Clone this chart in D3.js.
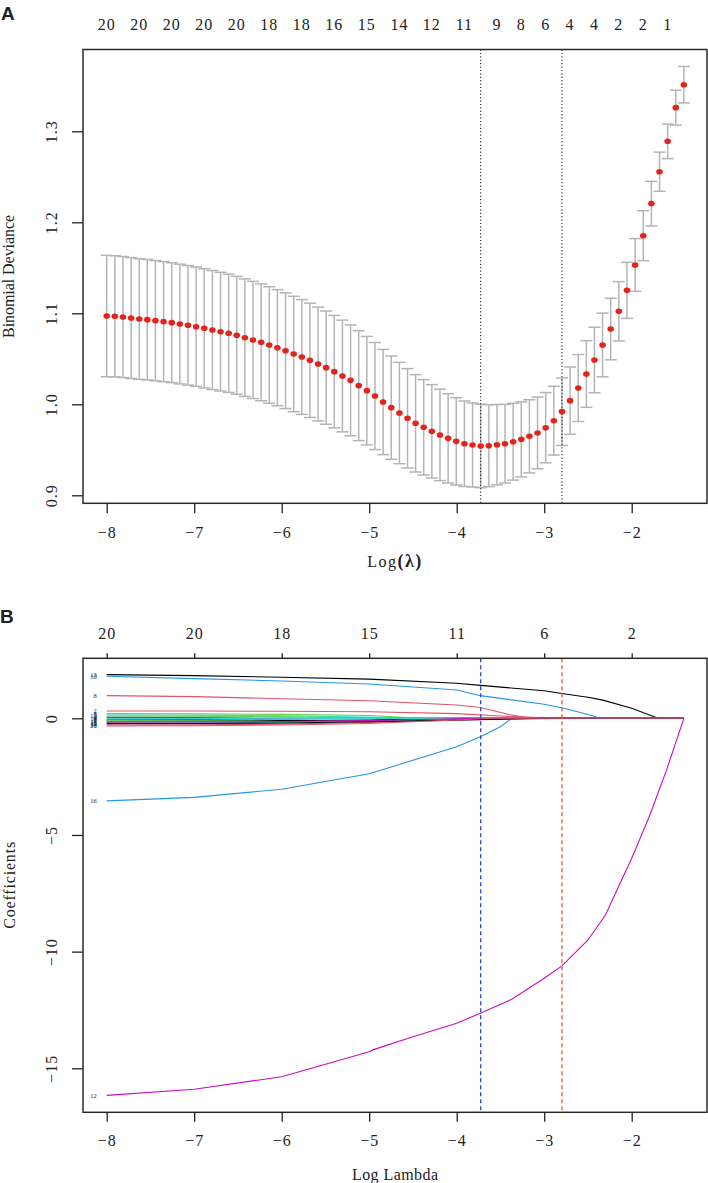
<!DOCTYPE html>
<html>
<head>
<meta charset="utf-8">
<script src="https://cdn.jsdelivr.net/npm/d3@7"></script>
<style>
  body { margin: 0; background: #fff; }
  svg text { font-family: "Liberation Serif", "DejaVu Serif", serif; fill: #222; }
  .panel-tag { font-family: "Liberation Sans", Arial, sans-serif !important; font-weight: bold; }
</style>
</head>
<body>
<div id="chart"></div>
<script>
// ---------- panel A: cross-validation curve ----------
const logLambda = [
  -8.000, -7.907, -7.814, -7.721, -7.628, -7.536, -7.443, -7.350, -7.257, -7.164,
  -7.071, -6.978, -6.885, -6.792, -6.699, -6.606, -6.514, -6.421, -6.328, -6.235,
  -6.142, -6.049, -5.956, -5.863, -5.770, -5.677, -5.584, -5.492, -5.399, -5.306,
  -5.213, -5.120, -5.027, -4.934, -4.841, -4.748, -4.655, -4.562, -4.470, -4.377,
  -4.284, -4.191, -4.098, -4.005, -3.912, -3.819, -3.726, -3.633, -3.540, -3.448,
  -3.355, -3.262, -3.169, -3.076, -2.983, -2.890, -2.797, -2.704, -2.611, -2.518,
  -2.426, -2.333, -2.240, -2.147, -2.054, -1.961, -1.868, -1.775, -1.682, -1.589,
  -1.496, -1.404
];
const cvMean = [
  1.0970, 1.0967, 1.0959, 1.0948, 1.0937, 1.0930, 1.0919, 1.0908, 1.0897, 1.0882,
  1.0868, 1.0853, 1.0835, 1.0816, 1.0798, 1.0780, 1.0758, 1.0732, 1.0707, 1.0681,
  1.0652, 1.0622, 1.0589, 1.0553, 1.0520, 1.0483, 1.0443, 1.0403, 1.0359, 1.0311,
  1.0263, 1.0205, 1.0150, 1.0091, 1.0025, 0.9963, 0.9904, 0.9846, 0.9791, 0.9747,
  0.9703, 0.9663, 0.9626, 0.9593, 0.9567, 0.9553, 0.9542, 0.9545, 0.9556, 0.9567,
  0.9589, 0.9615, 0.9648, 0.9685, 0.9743, 0.9820, 0.9919, 1.0040, 1.0179, 1.0333,
  1.0487, 1.0652, 1.0827, 1.1022, 1.1252, 1.1531, 1.1853, 1.2205, 1.2556, 1.2890,
  1.3260, 1.3512
];
const cvSd = [
  0.0667, 0.0666, 0.0665, 0.0664, 0.0663, 0.0662, 0.0661, 0.0660, 0.0659, 0.0658,
  0.0657, 0.0656, 0.0655, 0.0654, 0.0652, 0.0650, 0.0648, 0.0646, 0.0644, 0.0642,
  0.0640, 0.0638, 0.0636, 0.0634, 0.0631, 0.0628, 0.0625, 0.0622, 0.0618, 0.0614,
  0.0609, 0.0604, 0.0596, 0.0588, 0.0578, 0.0568, 0.0557, 0.0546, 0.0535, 0.0524,
  0.0513, 0.0502, 0.0491, 0.0480, 0.0470, 0.0462, 0.0458, 0.0450, 0.0442, 0.0432,
  0.0422, 0.0412, 0.0402, 0.0394, 0.0386, 0.0378, 0.0372, 0.0370, 0.0368, 0.0366,
  0.0360, 0.0350, 0.0338, 0.0326, 0.0308, 0.0290, 0.0275, 0.0245, 0.0215, 0.0190,
  0.0192, 0.0200
];
// number of non-zero coefficients printed on top (R drops overlapping labels)
const topLabelLambda = [-8.000, -7.628, -7.257, -6.885, -6.514, -6.142, -5.770, -5.399, -5.027,
  -4.655, -4.284, -3.912, -3.540, -3.262, -2.983, -2.704, -2.426, -2.147, -1.868, -1.589];
const topLabelCount = [20, 20, 20, 20, 20, 18, 18, 16, 15, 14, 12, 11, 9, 8, 6, 4, 4, 2, 2, 1];
const lambdaMin = -3.726;
const lambda1se = -2.797;

const xTicks = [-8, -7, -6, -5, -4, -3, -2];
const devianceTicks = [0.9, 1.0, 1.1, 1.2, 1.3];

// ---------- panel B: coefficient paths ----------
const pathTopTicks = [-8, -7, -6, -5, -4, -3, -2];
const pathTopCount = [20, 20, 18, 15, 11, 6, 2];
const coefTicks = [0, -5, -10, -15];
const coefVars = [1, 2, 3, 4, 5, 6, 7, 8, 9, 10, 11, 12, 13, 14, 15, 16, 17, 18, 19, 20];
// knots [logLambda, coefficient]
const coefKnots = [
  [[-8, -0.06], [-7, -0.05], [-6, -0.03], [-5.5, 0]],
  [[-8, 0.31], [-7, 0.31], [-6, 0.30], [-5, 0.28], [-4, 0.20], [-3.5, 0.10], [-2.85, 0]],
  [[-8, 0.20], [-7, 0.19], [-6, 0.17], [-5, 0.12], [-4.4, 0]],
  [[-8, 0.01], [-7, 0.008], [-6, 0.004], [-5.65, 0]],
  [[-8, 0.14], [-7, 0.13], [-6, 0.11], [-5, 0.05], [-4.55, 0]],
  [[-8, 0.04], [-7, 0.03], [-6.3, 0]],
  [[-8, -0.11], [-7, -0.11], [-6, -0.10], [-5, -0.07], [-4.05, 0]],
  [[-8, 0.97], [-7, 0.93], [-6, 0.84], [-5, 0.75], [-4, 0.57], [-3.73, 0.46], [-3.4, 0.16], [-3.16, 0]],
  [[-8, -0.09], [-7, -0.08], [-6, -0.05], [-5.2, 0]],
  [[-8, 1.80], [-7, 1.70], [-6, 1.60], [-5, 1.47], [-4, 1.21], [-3.73, 0.97], [-3, 0.60], [-2.8, 0.45], [-2.5, 0.16], [-2.36, 0]],
  [[-8, -0.20], [-7, -0.19], [-6, -0.17], [-5, -0.13], [-4, -0.06], [-3, -0.02], [-2.25, 0]],
  [[-8, -16.16], [-7, -15.90], [-6, -15.36], [-5, -14.29], [-4.95, -14.2], [-4.5, -13.65], [-4, -13.07], [-3.73, -12.64],
   [-3.37, -12.04], [-3, -11.14], [-2.8, -10.62], [-2.5, -9.5], [-2.3, -8.43], [-2, -6.0], [-1.8, -4.22], [-1.6, -2.2], [-1.404, 0]],
  [[-8, 1.87], [-7, 1.83], [-6, 1.76], [-5, 1.68], [-4, 1.50], [-3.73, 1.41], [-3, 1.18], [-2.8, 1.06], [-2.5, 0.90], [-2.33, 0.78], [-2, 0.43], [-1.7, 0]],
  [[-8, -0.29], [-7, -0.28], [-6, -0.25], [-5, -0.18], [-4, -0.08], [-3.3, -0.03], [-2.78, 0]],
  [[-8, 0.10], [-7, 0.095], [-6, 0.08], [-5, 0.02], [-4.85, 0]],
  [[-8, -3.54], [-7, -3.39], [-6, -3.04], [-5, -2.38], [-4, -1.22], [-3.73, -0.79], [-3.5, -0.36], [-3.37, 0]],
  [[-8, -0.03], [-7, -0.02], [-6.35, 0]],
  [[-8, -0.17], [-7, -0.16], [-6, -0.14], [-5, -0.10], [-4, -0.02], [-3.75, 0]],
  [[-8, -0.23], [-7, -0.22], [-6, -0.20], [-5, -0.15], [-4, -0.07], [-3.05, 0]],
  [[-8, -0.33], [-7, -0.32], [-6, -0.29], [-5, -0.22], [-4, -0.07], [-3.6, 0]]
];
// matplot default col = 1:6 (R 4 palette)
const rPalette = ["#000000", "#DF536B", "#61D04F", "#2297E6", "#28E2E5", "#CD0BBC"];

const svg = d3.select("#chart").append("svg")
    .attr("width", 708)
    .attr("height", 1183);

function styleAxis(g) {
    g.select(".domain").remove();
    g.selectAll(".tick line").attr("stroke", "#222").attr("stroke-width", 1.3);
    g.selectAll(".tick text").attr("font-size", 16).attr("fill", "#222")
        .attr("font-family", "Liberation Serif, serif").style("letter-spacing", "1px");
}

function rotateLeftLabels(g) {
    g.selectAll(".tick text")
        .attr("x", 0).attr("y", -26).attr("dy", 0)
        .attr("text-anchor", "middle")
        .attr("transform", "rotate(-90)");
}

function drawBox(g, box) {
    g.append("rect")
        .attr("x", box.left).attr("y", box.top)
        .attr("width", box.right - box.left).attr("height", box.bottom - box.top)
        .attr("fill", "none").attr("stroke", "#2a2a2a").attr("stroke-width", 1.5);
}

class CvDevianceChart {
    constructor(svg) {
        this.svg = svg;
        this.initVis();
    }

    initVis() {
        let vis = this;
        vis.box = { left: 83, right: 707, top: 49.5, bottom: 503.3 };
        vis.g = vis.svg.append("g").attr("class", "panel-a");

        vis.x = d3.scaleLinear().domain([-8, -2]).range([106.7, 631.7]);
        vis.y = d3.scaleLinear().domain([0.9, 1.3]).range([495.3, 131.3]);

        vis.g.append("text").attr("class", "panel-tag")
            .attr("x", 1).attr("y", 20).attr("font-size", 19).text("A");

        vis.updateVis();
    }

    updateVis() {
        let vis = this;
        const pts = logLambda.map((l, i) => ({ l: l, m: cvMean[i], sd: cvSd[i] }));
        const barw = 6;

        // error bars
        const bars = vis.g.append("g").attr("stroke", "#b4b4b4").attr("stroke-width", 1.5);
        bars.selectAll(".vbar").data(pts).enter().append("line")
            .attr("x1", d => vis.x(d.l)).attr("x2", d => vis.x(d.l))
            .attr("y1", d => vis.y(d.m + d.sd)).attr("y2", d => vis.y(d.m - d.sd));
        bars.selectAll(".cap-up").data(pts).enter().append("line")
            .attr("x1", d => vis.x(d.l) - barw).attr("x2", d => vis.x(d.l) + barw)
            .attr("y1", d => vis.y(d.m + d.sd)).attr("y2", d => vis.y(d.m + d.sd));
        bars.selectAll(".cap-lo").data(pts).enter().append("line")
            .attr("x1", d => vis.x(d.l) - barw).attr("x2", d => vis.x(d.l) + barw)
            .attr("y1", d => vis.y(d.m - d.sd)).attr("y2", d => vis.y(d.m - d.sd));

        // lambda.min / lambda.1se
        vis.g.selectAll(".vline").data([lambdaMin, lambda1se]).enter().append("line")
            .attr("x1", d => vis.x(d)).attr("x2", d => vis.x(d))
            .attr("y1", vis.box.top).attr("y2", vis.box.bottom)
            .attr("stroke", "#222").attr("stroke-width", 1.1).attr("stroke-dasharray", "1.2,2.2");

        vis.g.selectAll(".cv-dot").data(pts).enter().append("ellipse")
            .attr("cx", d => vis.x(d.l)).attr("cy", d => vis.y(d.m))
            .attr("rx", 3.3).attr("ry", 2.8)
            .attr("fill", "#e4231d");

        drawBox(vis.g, vis.box);

        vis.g.append("g")
            .attr("transform", `translate(0,${vis.box.bottom})`)
            .call(d3.axisBottom(vis.x).tickValues(xTicks).tickSize(10).tickPadding(13).tickFormat(d3.format("d")))
            .call(styleAxis);

        vis.g.append("g")
            .attr("transform", `translate(${vis.box.left},0)`)
            .call(d3.axisLeft(vis.y).tickValues(devianceTicks).tickSize(11).tickFormat(d3.format(".1f")))
            .call(styleAxis)
            .call(rotateLeftLabels);

        vis.g.selectAll(".top-count").data(topLabelLambda).enter().append("text")
            .attr("x", d => vis.x(d)).attr("y", 29.8)
            .attr("text-anchor", "middle").attr("font-size", 16)
            .style("letter-spacing", "1px")
            .text((d, i) => topLabelCount[i]);

        vis.g.append("text")
            .attr("transform", `translate(14,${(vis.box.top + vis.box.bottom) / 2}) rotate(-90)`)
            .attr("text-anchor", "middle").attr("font-size", 16)
            .attr("textLength", 123).attr("lengthAdjust", "spacing")
            .text("Binomial Deviance");

        const xl = vis.g.append("text")
            .attr("x", (vis.box.left + vis.box.right) / 2).attr("y", 567)
            .attr("text-anchor", "middle").attr("font-size", 16)
            .style("letter-spacing", "1.5px");
        xl.append("tspan").text("Log");
        xl.append("tspan").attr("font-weight", "bold").attr("font-size", 18).text("(λ)");
    }
}

class CoefPathChart {
    constructor(svg) {
        this.svg = svg;
        this.initVis();
    }

    initVis() {
        let vis = this;
        vis.box = { left: 83, right: 707, top: 658.3, bottom: 1112.3 };
        vis.g = vis.svg.append("g").attr("class", "panel-b");

        vis.x = d3.scaleLinear().domain([-8, -2]).range([106.7, 631.7]);
        vis.y = d3.scaleLinear().domain([-15, 0]).range([1068.3, 718.3]);

        vis.g.append("text").attr("class", "panel-tag")
            .attr("x", 0).attr("y", 623).attr("font-size", 19).text("B");

        vis.updateVis();
    }

    updateVis() {
        let vis = this;
        const lastLambda = logLambda[logLambda.length - 1];
        const line = d3.line().x(d => vis.x(d[0])).y(d => vis.y(d[1]));

        const series = coefVars.map((v, i) => {
            const pts = coefKnots[i].slice();
            if (pts[pts.length - 1][0] < lastLambda) pts.push([lastLambda, 0]);
            return { id: v, pts: pts, color: rPalette[(v - 1) % 6] };
        });

        vis.g.selectAll(".coef-path").data(series).enter().append("path")
            .attr("class", "coef-path")
            .attr("d", d => line(d.pts))
            .attr("fill", "none")
            .attr("stroke", d => d.color)
            .attr("stroke-width", 1.1);

        // labels sit at the first lambda, like plot.glmnet(label = TRUE); they overlap in the source too
        vis.g.selectAll(".coef-label").data(series).enter().append("text")
            .attr("x", vis.x(-8) - 10).attr("y", d => vis.y(d.pts[0][1]) + 2.2)
            .attr("text-anchor", "end").attr("font-size", 6.5).attr("fill", "#333")
            .text(d => d.id);

        vis.g.selectAll(".cut-line").data([[lambdaMin, "#2f4fd0"], [lambda1se, "#ee5f3c"]]).enter().append("line")
            .attr("x1", d => vis.x(d[0])).attr("x2", d => vis.x(d[0]))
            .attr("y1", vis.box.top).attr("y2", vis.box.bottom)
            .attr("stroke", d => d[1]).attr("stroke-width", 1.4).attr("stroke-dasharray", "4,3");

        drawBox(vis.g, vis.box);

        vis.g.append("g")
            .attr("transform", `translate(0,${vis.box.bottom})`)
            .call(d3.axisBottom(vis.x).tickValues(xTicks).tickSize(9.5).tickPadding(12.6).tickFormat(d3.format("d")))
            .call(styleAxis);

        vis.g.append("g")
            .attr("transform", `translate(0,${vis.box.top})`)
            .call(d3.axisTop(vis.x).tickValues(pathTopTicks).tickSize(5).tickPadding(14.8)
                .tickFormat((d, i) => pathTopCount[i]))
            .call(styleAxis);

        vis.g.append("g")
            .attr("transform", `translate(${vis.box.left},0)`)
            .call(d3.axisLeft(vis.y).tickValues(coefTicks).tickSize(11).tickFormat(d3.format("d")))
            .call(styleAxis)
            .call(rotateLeftLabels);

        vis.g.append("text")
            .attr("transform", `translate(15,${(vis.box.top + vis.box.bottom) / 2}) rotate(-90)`)
            .attr("text-anchor", "middle").attr("font-size", 16)
            .attr("textLength", 87).attr("lengthAdjust", "spacing")
            .text("Coefficients");

        vis.g.append("text")
            .attr("x", (vis.box.left + vis.box.right) / 2).attr("y", 1180)
            .attr("text-anchor", "middle").attr("font-size", 16)
            .attr("textLength", 86).attr("lengthAdjust", "spacing")
            .text("Log Lambda");
    }
}

new CvDevianceChart(svg);
new CoefPathChart(svg);
</script>
</body>
</html>
